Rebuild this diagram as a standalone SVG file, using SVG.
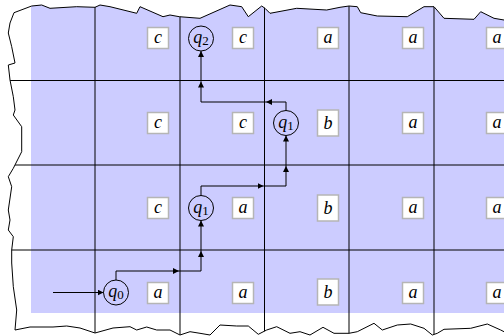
<svg xmlns="http://www.w3.org/2000/svg" width="504" height="336" viewBox="0 0 504 336">
<defs>
<style>
.grid{stroke:#000;stroke-width:1;fill:none}
.box{fill:#fff;stroke:#b5b5b5;stroke-width:1.5}
.lbl{font-family:"Liberation Serif","DejaVu Serif",serif;font-style:italic;font-size:18px;fill:#000;text-anchor:middle}
.st{fill:none;stroke:#000;stroke-width:1}
.stt{font-family:"Liberation Serif","DejaVu Serif",serif;font-size:18px;fill:#000;text-anchor:middle}
.sub{font-style:normal;font-size:13px}
.cn{fill:none;stroke:#000;stroke-width:1}
</style>
<marker id="ah" viewBox="0 0 10 10" refX="10" refY="5" markerWidth="6" markerHeight="6" markerUnits="userSpaceOnUse" orient="auto">
<path d="M0,0 L10,5 L0,10 Z" fill="#000"/>
</marker>
<clipPath id="torn">
<path id="tornp" d="M14,12.7 L31.7,6 L41.7,5 L50,8.3 L76.7,6.7 L95,7.3 L100,5 L110,6.7 L136.7,13.3 L140,6.7 L163,16.7 L170,15 L179.3,16.7 L200,18.3 L230,5 L241.7,6.7 L248.3,16.7 L261.7,6 L265,8.3 L270,13.3 L296.7,8.3 L326.7,10 L340,7.3 L349,6 L357.3,6.7 L360.7,12.7 L377.3,16 L407.3,16.7 L424,6.7 L434,6.7 L444,18.3 L474,19.3 L480.7,11.7 L494,18.3 L504,20 L512,20 L512,335 L504,331.7 L500.7,330 L487.3,324 L470.7,328.3 L444,329.3 L437.3,333.3 L432.3,335 L424,328.3 L410.7,324 L397.3,325 L382.3,330 L374,323.3 L357.3,331.7 L349,333.3 L334,333.3 L323,327.3 L310,335 L300,331.7 L290,333.3 L276.7,326.7 L266.7,330 L258.3,334.3 L248.3,326 L236.7,326 L220,325 L210,335 L200,333.3 L190,331.7 L180,335 L170,330 L156.7,330 L146.7,327 L136.7,330 L130,326.7 L113,328 L95,333 L80,328 L66.7,326 L53,327 L30,327 L15,330 L16.7,310 L13.3,286.7 L11.7,263 L11.7,250 L13.3,236.7 L8.3,230 L10,220 L8.3,210 L11.7,186.7 L8.3,176.7 L13.3,168.3 L21.7,151.7 L21.7,126.7 L13.3,115 L15,110 L13.3,96.7 L10,80 L8.3,65 L15,63 L11.7,46.7 L8.3,33 L10,23 Z"/>
</clipPath>
</defs>
<g id="background" clip-path="url(#torn)">
<rect x="31" y="0" width="481" height="313" fill="#ccccff"/>
<g class="grid">
<line x1="95" y1="0" x2="95" y2="340"/>
<line x1="180" y1="0" x2="180" y2="340"/>
<line x1="264.5" y1="0" x2="264.5" y2="340"/>
<line x1="349" y1="0" x2="349" y2="340"/>
<line x1="434" y1="0" x2="434" y2="340"/>
<line x1="0" y1="80.5" x2="512" y2="80.5"/>
<line x1="0" y1="165" x2="512" y2="165"/>
<line x1="0" y1="250" x2="512" y2="250"/>
</g>
</g>
<use href="#tornp" fill="none" stroke="#000" stroke-width="1"/>
<g id="cells">
<g id="r1c1"><rect class="box" x="147.5" y="27.5" width="21" height="21"/><text class="lbl" x="158" y="43">c</text></g>
<g id="r1c2"><rect class="box" x="232.5" y="27.5" width="21" height="21"/><text class="lbl" x="243" y="43">c</text></g>
<g id="r1c3"><rect class="box" x="317.5" y="27.5" width="21" height="21"/><text class="lbl" x="328" y="43">a</text></g>
<g id="r1c4"><rect class="box" x="402.5" y="27.5" width="21" height="21"/><text class="lbl" x="413" y="43">a</text></g>
<g id="r1c5"><rect class="box" x="486.5" y="27.5" width="21" height="21"/><text class="lbl" x="497" y="43">a</text></g>

<g id="r2c1"><rect class="box" x="147.5" y="112.5" width="21" height="21"/><text class="lbl" x="158" y="128">c</text></g>
<g id="r2c2"><rect class="box" x="232.5" y="112.5" width="21" height="21"/><text class="lbl" x="243" y="128">c</text></g>
<g id="r2c3"><rect class="box" x="317.5" y="110" width="21" height="26"/><text class="lbl" x="328" y="129">b</text></g>
<g id="r2c4"><rect class="box" x="402.5" y="112.5" width="21" height="21"/><text class="lbl" x="413" y="128">a</text></g>
<g id="r2c5"><rect class="box" x="486.5" y="112.5" width="21" height="21"/><text class="lbl" x="497" y="128">a</text></g>

<g id="r3c1"><rect class="box" x="147.5" y="197.5" width="21" height="21"/><text class="lbl" x="158" y="213">c</text></g>
<g id="r3c2"><rect class="box" x="232.5" y="197.5" width="21" height="21"/><text class="lbl" x="243" y="213">a</text></g>
<g id="r3c3"><rect class="box" x="317.5" y="195" width="21" height="26"/><text class="lbl" x="328" y="214">b</text></g>
<g id="r3c4"><rect class="box" x="402.5" y="197.5" width="21" height="21"/><text class="lbl" x="413" y="213">a</text></g>
<g id="r3c5"><rect class="box" x="486.5" y="197.5" width="21" height="21"/><text class="lbl" x="497" y="213">a</text></g>

<g id="r4c1"><rect class="box" x="147.5" y="282.5" width="21" height="21"/><text class="lbl" x="158" y="298">a</text></g>
<g id="r4c2"><rect class="box" x="232.5" y="282.5" width="21" height="21"/><text class="lbl" x="243" y="298">a</text></g>
<g id="r4c3"><rect class="box" x="317.5" y="279" width="21" height="26"/><text class="lbl" x="328" y="298">b</text></g>
<g id="r4c4"><rect class="box" x="402.5" y="282.5" width="21" height="21"/><text class="lbl" x="413" y="298">a</text></g>
<g id="r4c5"><rect class="box" x="486.5" y="282.5" width="21" height="21"/><text class="lbl" x="497" y="298">a</text></g>
</g>
<g id="q0"><circle class="st" cx="116" cy="292.5" r="12.5"/><text class="stt" x="116" y="297"><tspan font-style="italic">q</tspan><tspan class="sub" dy="2">0</tspan></text></g>
<g id="q1a"><circle class="st" cx="201" cy="208" r="12.5"/><text class="stt" x="201" y="212.5"><tspan font-style="italic">q</tspan><tspan class="sub" dy="2">1</tspan></text></g>
<g id="q1b"><circle class="st" cx="286" cy="123" r="12.5"/><text class="stt" x="286" y="127.5"><tspan font-style="italic">q</tspan><tspan class="sub" dy="2">1</tspan></text></g>
<g id="q2"><circle class="st" cx="201" cy="38.5" r="12.5"/><text class="stt" x="201" y="43"><tspan font-style="italic">q</tspan><tspan class="sub" dy="2">2</tspan></text></g>
<g id="connectors" class="cn">
<path d="M53,292.5 H103.5" marker-end="url(#ah)"/>
<path d="M116,280 V271 H179" marker-end="url(#ah)"/>
<path d="M179,271 H201 V251" marker-end="url(#ah)"/>
<path d="M201,251 V220.5" marker-end="url(#ah)"/>
<path d="M201,195.5 V186 H263.5" marker-end="url(#ah)"/>
<path d="M263.5,186 H286 V166" marker-end="url(#ah)"/>
<path d="M286,166 V135.5" marker-end="url(#ah)"/>
<path d="M286,110.5 V102 H266" marker-end="url(#ah)"/>
<path d="M266,102 H201 V81.5" marker-end="url(#ah)"/>
<path d="M201,81.5 V51" marker-end="url(#ah)"/>
</g>
</svg>
